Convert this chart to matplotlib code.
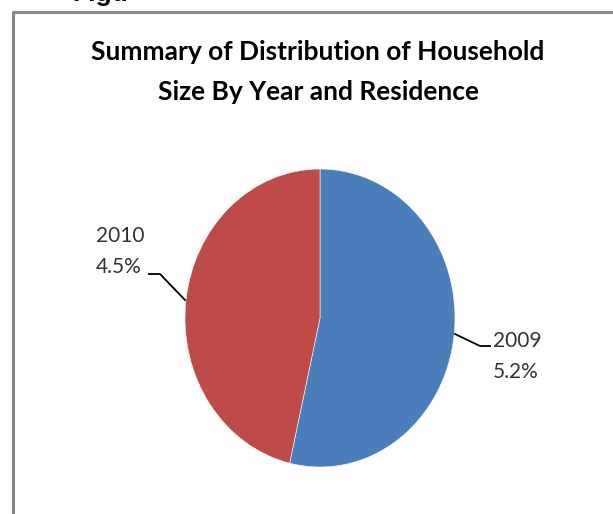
import matplotlib
matplotlib.use("Agg")
import matplotlib.pyplot as plt
from matplotlib.lines import Line2D

years = ["2009", "2010"]
values = [5.2, 4.5]
labels = ["5.2%", "4.5%"]
colors = ["#4A7EBB", "#BE4B48"]
title = "Summary of Distribution of Household\nSize By Year and Residence"

W, H = 613, 514
fig = plt.figure(figsize=(W / 100, H / 100), dpi=100)

def fx(px):
    return px / W

def fy(py):
    return 1 - py / H

# chart border
fig.add_artist(Line2D([fx(12.5), fx(12.5), fx(W + 5)], [fy(H + 5), fy(11.5), fy(11.5)],
                      color="#888888", lw=2.2, transform=fig.transFigure))

# cut-off heading above chart
fig.text(fx(72), fy(1), "Figu", fontsize=19, fontweight="bold",
         family="Liberation Sans", va="baseline", ha="left", color="black")

# pie axes: center (320, 318), radii 135 x 149 px (slightly squashed in reference)
cx, cy, rx, ry = 320, 318, 135, 149
m = 1.03
ax = fig.add_axes([fx(cx - rx * m), fy(cy + ry * m), 2 * rx * m / W, 2 * ry * m / H])
ax.pie(values, colors=colors, startangle=90, counterclock=False, radius=1,
       wedgeprops=dict(edgecolor="white", linewidth=0.4))
ax.set_aspect("auto")
ax.set_xlim(-m, m)
ax.set_ylim(-m, m)
ax.axis("off")

fig.text(fx(318), fy(52), title.split("\n")[0], fontsize=19, fontweight="bold",
         family="Lato", ha="center", va="center", color="black")
fig.text(fx(318), fy(92), title.split("\n")[1], fontsize=19, fontweight="bold",
         family="Lato", ha="center", va="center", color="black")

lab_font = dict(fontsize=15, family="Lato", color="#333333")

# 2009 label
fig.add_artist(Line2D([fx(455), fx(480), fx(490)], [fy(334), fy(346), fy(346)],
                      color="black", lw=1.3, transform=fig.transFigure))
fig.text(fx(493), fy(347), years[0], ha="left", va="baseline", **lab_font)
fig.text(fx(493), fy(378), labels[0], ha="left", va="baseline", **lab_font)

# 2010 label
fig.add_artist(Line2D([fx(185), fx(160), fx(149)], [fy(300), fy(274), fy(274)],
                      color="black", lw=1.3, transform=fig.transFigure))
fig.text(fx(96), fy(242), years[1], ha="left", va="baseline", **lab_font)
fig.text(fx(96), fy(273), labels[1], ha="left", va="baseline", **lab_font)

fig.savefig("out.png", dpi=100)
